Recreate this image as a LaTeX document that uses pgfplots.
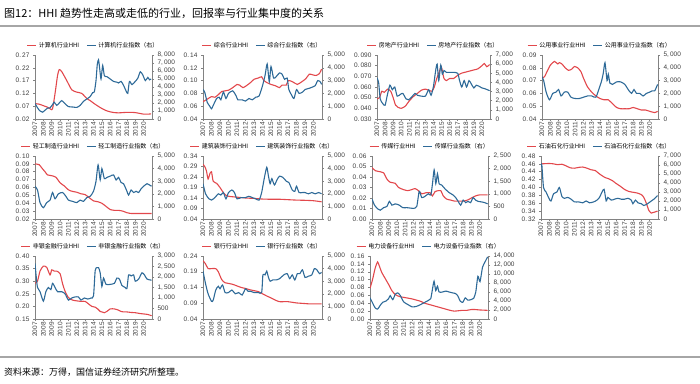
\documentclass[border=0pt]{standalone}
\usepackage{fontspec}
\setmainfont{Liberation Sans}
\newfontfamily\cjk{Noto Sans CJK SC}
\usepackage{pgfplots}
\pgfplotsset{compat=1.18}
\definecolor{hhired}{RGB}{226,72,76}
\definecolor{idxblue}{RGB}{46,106,152}
\definecolor{axgray}{RGB}{130,130,130}
\definecolor{txtgray}{RGB}{60,60,60}
\pgfplotsset{
  common/.style={
    scale only axis, anchor=south west,
    xmin=2007, xmax=2021,
    scaled ticks=false,
    tick label style={font=\fontsize{6.5}{7}\selectfont, text=txtgray},
    axis line style={axgray, line width=0.6pt},
    tick style={axgray, line width=0.5pt},
    major tick length=2pt,
    tick align=outside,
    /pgf/number format/assume math mode=true,
    every axis plot/.append style={line width=1.1pt, smooth, tension=0.4},
  },
  lefta/.style={common, axis x line*=bottom, axis y line*=left,
    xtick={2007,2008,2009,2010,2011,2012,2013,2014,2015,2016,2017,2018,2019,2020},
    xticklabels={2007,2008,2009,2010,2011,2012,2013,2014,2015,2016,2017,2018,2019,2020},
    x tick label style={rotate=90, anchor=east, inner sep=1pt},
    yticklabel style={/pgf/number format/fixed, /pgf/number format/fixed zerofill, /pgf/number format/precision=2, /pgf/number format/dec sep={.\,}},
  },
  righta/.style={common, axis x line=none, axis y line*=right, xtick=\empty, ymin=0,
    yticklabel style={/pgf/number format/fixed, /pgf/number format/precision=0, /pgf/number format/1000 sep={,\,}},
    legend style={at={(0.5,1)}, anchor=south, yshift=4pt, draw=none, fill=none,
      font=\cjk\fontsize{6}{7}\selectfont, inner sep=0pt, legend columns=2,
      /tikz/every even column/.append style={column sep=5pt}},
    legend cell align=left,
    legend image code/.code={\draw[##1, line width=1.1pt] (0pt,0pt) -- (9pt,0pt);},
  },
}
\begin{document}
\begin{tikzpicture}
\path[use as bounding box] (0pt,0pt) rectangle (700pt,383pt);
\node[anchor=west, inner sep=0pt] at (4pt,370pt) {\cjk\fontsize{11}{13}\selectfont 图12：HHI 趋势性走高或走低的行业，回报率与行业集中度的关系};
\draw[color=gray!70, line width=1.2pt] (0pt,357pt) -- (700pt,357pt);
\draw[color=gray!70, line width=1.2pt] (0pt,26pt) -- (700pt,26pt);
\node[anchor=west, inner sep=0pt] at (4pt,11pt) {\cjk\fontsize{9}{11}\selectfont 资料来源：万得，国信证券经济研究所整理。};

% ---------- Panel 1 计算机
\begin{axis}[lefta, at={(35pt,264pt)}, width=117pt, height=64pt, ymin=0.02, ymax=0.27, ytick={0.02,0.07,0.12,0.17,0.22,0.27}]
\addplot[hhired] coordinates {(2007.0,0.080)(2007.5,0.078)(2008.0,0.072)(2008.5,0.066)(2008.9,0.058)(2009.1,0.060)(2009.4,0.120)(2009.7,0.190)(2009.9,0.213)(2010.2,0.205)(2010.8,0.170)(2011.4,0.134)(2012.0,0.125)(2012.6,0.120)(2013.2,0.100)(2013.6,0.092)(2014.0,0.082)(2014.5,0.071)(2015.0,0.061)(2015.5,0.053)(2016.0,0.048)(2016.5,0.045)(2017.0,0.044)(2017.5,0.045)(2018.0,0.046)(2018.5,0.046)(2019.0,0.045)(2019.5,0.042)(2020.0,0.039)(2020.5,0.039)(2020.9,0.040)};
\end{axis}
\begin{axis}[righta, at={(35pt,264pt)}, width=117pt, height=64pt, ymax=8000, ytick={0,1000,...,8000}]
\addlegendimage{hhired}\addlegendentry{计算机行业HHI}
\addplot[idxblue] coordinates {(2007.0,1950)(2007.3,1400)(2007.6,1000)(2007.9,850)(2008.2,1100)(2008.5,1350)(2008.8,1400)(2009.1,1800)(2009.3,2100)(2009.6,1700)(2009.9,2000)(2010.2,2300)(2010.6,1900)(2011.0,1550)(2011.5,1500)(2012.0,1450)(2012.4,1700)(2012.8,2200)(2013.2,2500)(2013.6,2800)(2013.9,3300)(2014.1,3400)(2014.3,4800)(2014.45,6800)(2014.6,7400)(2014.75,6200)(2014.9,5000)(2015.1,6700)(2015.3,5400)(2015.6,5300)(2016.0,5000)(2016.4,4700)(2016.8,4600)(2017.0,4500)(2017.3,4700)(2017.6,4200)(2017.9,3500)(2018.1,3200)(2018.3,4700)(2018.6,4300)(2019.0,4700)(2019.3,5100)(2019.6,5900)(2019.9,5500)(2020.2,4800)(2020.5,5200)(2020.7,4900)(2020.9,5000)};
\addlegendentry{计算机行业指数（右）}
\end{axis}

% ---------- Panel 2 综合
\begin{axis}[lefta, at={(203pt,264pt)}, width=119pt, height=64pt, ymin=0.04, ymax=0.14, ytick={0.04,0.06,0.08,0.10,0.12,0.14}]
\addplot[hhired] coordinates {(2007.0,0.067)(2007.5,0.071)(2008.0,0.075)(2008.4,0.074)(2008.8,0.078)(2009.2,0.083)(2009.6,0.084)(2010.0,0.085)(2010.5,0.089)(2011.0,0.094)(2011.3,0.093)(2011.7,0.089)(2012.1,0.092)(2012.6,0.097)(2013.0,0.102)(2013.5,0.104)(2013.9,0.106)(2014.1,0.101)(2014.5,0.097)(2015.0,0.094)(2015.5,0.092)(2016.0,0.089)(2016.3,0.093)(2016.8,0.093)(2017.0,0.100)(2017.4,0.099)(2017.8,0.096)(2018.1,0.094)(2018.6,0.098)(2019.1,0.103)(2019.5,0.110)(2019.9,0.109)(2020.3,0.108)(2020.7,0.111)(2020.95,0.118)};
\end{axis}
\begin{axis}[righta, at={(203pt,264pt)}, width=119pt, height=64pt, ymax=5000, ytick={0,1000,...,5000}]
\addlegendimage{hhired}\addlegendentry{综合行业HHI}
\addplot[idxblue] coordinates {(2007.0,2300)(2007.2,2100)(2007.5,1300)(2007.8,1000)(2008.0,800)(2008.3,1200)(2008.6,1600)(2008.9,1700)(2009.1,1500)(2009.4,2100)(2009.7,1600)(2010.0,2000)(2010.5,2200)(2010.9,1800)(2011.1,1500)(2011.6,1500)(2012.0,1400)(2012.4,1600)(2012.8,1500)(2013.2,1700)(2013.6,1800)(2014.0,2600)(2014.3,3400)(2014.55,4300)(2014.8,2900)(2015.0,4100)(2015.3,3200)(2015.6,3300)(2016.0,3600)(2016.3,3500)(2016.6,3100)(2016.9,3200)(2017.1,2300)(2017.4,1900)(2017.7,1600)(2018.0,2300)(2018.3,2000)(2018.7,2100)(2019.0,2300)(2019.5,2400)(2019.9,2500)(2020.2,2600)(2020.5,3000)(2020.8,2900)(2020.95,2700)};
\addlegendentry{综合行业指数（右）}
\end{axis}

% ---------- Panel 3 房地产
\begin{axis}[lefta, at={(377pt,264pt)}, width=113pt, height=64pt, ymin=0.03, ymax=0.09, ytick={0.03,0.04,0.05,0.06,0.07,0.08,0.09}, yticklabel style={/pgf/number format/precision=3}]
\addplot[hhired] coordinates {(2007.0,0.049)(2007.3,0.050)(2007.6,0.056)(2007.9,0.055)(2008.3,0.058)(2008.7,0.056)(2009.0,0.050)(2009.3,0.043)(2009.6,0.041)(2010.0,0.040)(2010.5,0.042)(2011.0,0.047)(2011.5,0.051)(2012.0,0.054)(2012.5,0.057)(2013.0,0.058)(2013.4,0.057)(2013.8,0.056)(2014.1,0.060)(2014.4,0.068)(2014.7,0.074)(2014.95,0.079)(2015.1,0.075)(2015.3,0.068)(2015.6,0.066)(2016.0,0.068)(2016.5,0.068)(2017.0,0.071)(2017.5,0.073)(2018.0,0.074)(2018.5,0.075)(2019.0,0.076)(2019.5,0.077)(2020.0,0.080)(2020.3,0.082)(2020.6,0.079)(2020.95,0.081)};
\end{axis}
\begin{axis}[righta, at={(377pt,264pt)}, width=113pt, height=64pt, ymax=7000, ytick={0,1000,...,7000}]
\addlegendimage{hhired}\addlegendentry{房地产行业HHI}
\addplot[idxblue] coordinates {(2007.0,4500)(2007.2,4000)(2007.4,2200)(2007.7,1700)(2008.0,1500)(2008.3,2700)(2008.6,3700)(2008.9,3200)(2009.2,3500)(2009.5,2500)(2009.9,2700)(2010.2,2800)(2010.6,2200)(2010.9,2100)(2011.3,2400)(2011.7,2800)(2012.0,2600)(2012.5,2500)(2013.0,2500)(2013.4,3200)(2013.7,2600)(2014.0,3600)(2014.25,5200)(2014.45,6000)(2014.65,4200)(2014.9,5900)(2015.1,4900)(2015.3,5300)(2015.6,5100)(2016.0,5100)(2016.5,5100)(2017.0,5000)(2017.2,4300)(2017.5,3500)(2017.8,4200)(2018.1,3500)(2018.4,4200)(2018.7,3800)(2019.0,3400)(2019.3,3700)(2019.6,3600)(2020.0,3400)(2020.4,3300)(2020.95,3100)};
\addlegendentry{房地产行业指数（右）}
\end{axis}

% ---------- Panel 4 公用事业
\begin{axis}[lefta, at={(542pt,264pt)}, width=116pt, height=64pt, ymin=0.04, ymax=0.09, ytick={0.04,0.05,0.06,0.07,0.08,0.09}]
\addplot[hhired] coordinates {(2007.0,0.072)(2007.3,0.073)(2007.6,0.077)(2008.0,0.082)(2008.5,0.085)(2008.9,0.083)(2009.1,0.084)(2009.4,0.083)(2009.8,0.080)(2010.2,0.078)(2010.6,0.079)(2010.9,0.081)(2011.3,0.080)(2011.7,0.077)(2012.0,0.072)(2012.5,0.065)(2013.0,0.061)(2013.5,0.058)(2014.0,0.056)(2014.5,0.055)(2015.0,0.055)(2015.5,0.052)(2016.0,0.049)(2016.5,0.048)(2017.0,0.048)(2017.5,0.048)(2018.0,0.049)(2018.5,0.048)(2019.0,0.047)(2019.5,0.047)(2020.0,0.046)(2020.6,0.045)(2020.95,0.046)};
\end{axis}
\begin{axis}[righta, at={(542pt,264pt)}, width=116pt, height=64pt, ymax=5000, ytick={0,1000,...,5000}]
\addlegendimage{hhired}\addlegendentry{公用事业行业HHI}
\addplot[idxblue] coordinates {(2007.0,3300)(2007.2,3000)(2007.5,2100)(2007.9,1500)(2008.3,2000)(2008.7,2100)(2009.0,2300)(2009.3,1800)(2009.7,2100)(2010.1,2100)(2010.5,1700)(2011.0,1600)(2011.5,1600)(2012.0,1700)(2012.5,1800)(2013.0,1800)(2013.5,1700)(2013.9,2400)(2014.2,3000)(2014.4,3600)(2014.6,4400)(2014.85,3000)(2015.0,3500)(2015.2,2800)(2015.5,2700)(2016.0,2900)(2016.5,2900)(2017.0,2700)(2017.4,2300)(2017.8,2000)(2018.1,2300)(2018.4,2000)(2018.8,2000)(2019.2,1800)(2019.6,2000)(2020.0,2100)(2020.3,2200)(2020.6,2200)(2020.95,2700)};
\addlegendentry{公用事业行业指数（右）}
\end{axis}

% ---------- Panel 5 轻工制造
\begin{axis}[lefta, at={(35pt,164pt)}, width=117pt, height=63pt, ymin=0.02, ymax=0.10, ytick={0.02,0.03,0.04,0.05,0.06,0.07,0.08,0.09,0.10}]
\addplot[hhired] coordinates {(2007.0,0.090)(2007.5,0.089)(2007.8,0.085)(2008.2,0.080)(2008.5,0.076)(2009.0,0.075)(2009.5,0.073)(2010.0,0.066)(2010.5,0.062)(2011.0,0.057)(2011.5,0.055)(2012.0,0.054)(2012.5,0.052)(2013.0,0.051)(2013.5,0.047)(2014.0,0.043)(2014.5,0.042)(2015.0,0.040)(2015.5,0.036)(2016.0,0.032)(2016.5,0.031)(2017.0,0.031)(2017.5,0.030)(2018.0,0.028)(2018.5,0.027)(2019.0,0.027)(2019.5,0.027)(2020.0,0.027)(2020.95,0.027)};
\end{axis}
\begin{axis}[righta, at={(35pt,164pt)}, width=117pt, height=63pt, ymax=5000, ytick={0,1000,...,5000}]
\addlegendimage{hhired}\addlegendentry{轻工制造行业HHI}
\addplot[idxblue] coordinates {(2007.0,2600)(2007.3,2300)(2007.6,1300)(2008.0,900)(2008.4,1300)(2008.8,1500)(2009.1,2100)(2009.4,1600)(2009.8,2000)(2010.3,2100)(2010.7,1800)(2011.0,1500)(2011.5,1400)(2012.0,1300)(2012.4,1500)(2012.8,1400)(2013.2,1700)(2013.6,1800)(2014.0,2200)(2014.3,3000)(2014.55,4300)(2014.8,3100)(2015.0,4000)(2015.3,3200)(2015.6,3300)(2016.0,3400)(2016.4,3500)(2016.7,3100)(2017.0,3300)(2017.3,2900)(2017.6,2800)(2018.0,2200)(2018.2,1900)(2018.5,2300)(2018.8,2100)(2019.1,2200)(2019.4,2100)(2019.7,2400)(2020.0,2600)(2020.4,2800)(2020.7,2700)(2020.95,2600)};
\addlegendentry{轻工制造行业指数（右）}
\end{axis}

% ---------- Panel 6 建筑装饰
\begin{axis}[lefta, at={(203pt,164pt)}, width=119pt, height=63pt, ymin=0.04, ymax=0.34, ytick={0.04,0.09,0.14,0.19,0.24,0.29,0.34}]
\addplot[hhired] coordinates {(2007.0,0.300)(2007.2,0.290)(2007.4,0.270)(2007.6,0.230)(2007.8,0.255)(2008.0,0.265)(2008.2,0.220)(2008.6,0.210)(2009.0,0.190)(2009.4,0.165)(2009.8,0.150)(2010.2,0.147)(2011.0,0.144)(2012.0,0.140)(2013.0,0.138)(2014.0,0.135)(2015.0,0.134)(2016.0,0.134)(2017.0,0.132)(2018.0,0.130)(2019.0,0.129)(2020.0,0.127)(2020.95,0.122)};
\end{axis}
\begin{axis}[righta, at={(203pt,164pt)}, width=119pt, height=63pt, ymax=5000, ytick={0,1000,...,5000}]
\addlegendimage{hhired}\addlegendentry{建筑装饰行业HHI}
\addplot[idxblue] coordinates {(2007.0,2800)(2007.3,2000)(2007.7,1600)(2008.0,1500)(2008.4,1700)(2008.8,2000)(2009.1,1900)(2009.4,2100)(2009.7,1600)(2010.0,2100)(2010.4,2300)(2010.7,2100)(2011.0,1600)(2011.5,1700)(2012.0,1700)(2012.4,1800)(2012.8,1700)(2013.2,1600)(2013.6,1500)(2013.9,2100)(2014.2,3200)(2014.5,4100)(2014.7,3400)(2014.9,2800)(2015.1,3200)(2015.4,2700)(2015.7,3100)(2016.0,3400)(2016.4,3300)(2016.8,3000)(2017.1,2900)(2017.5,2300)(2017.8,2200)(2018.0,2600)(2018.3,2100)(2018.7,2100)(2019.0,2100)(2019.4,2000)(2019.8,2100)(2020.2,2000)(2020.6,2100)(2020.95,2000)};
\addlegendentry{建筑装饰行业指数（右）}
\end{axis}

% ---------- Panel 7 传媒
\begin{axis}[lefta, at={(372pt,164pt)}, width=116pt, height=63pt, ymin=0, ymax=0.06, ytick={0,0.01,0.02,0.03,0.04,0.05,0.06}]
\addplot[hhired] coordinates {(2007.0,0.049)(2007.4,0.046)(2008.0,0.045)(2008.4,0.044)(2008.8,0.038)(2009.2,0.035)(2009.8,0.034)(2010.2,0.030)(2010.8,0.028)(2011.3,0.027)(2011.8,0.028)(2012.2,0.029)(2012.6,0.027)(2013.0,0.024)(2013.5,0.025)(2014.0,0.025)(2014.3,0.022)(2014.6,0.026)(2015.0,0.027)(2015.3,0.027)(2015.6,0.022)(2016.0,0.019)(2016.5,0.018)(2017.0,0.017)(2017.5,0.017)(2018.0,0.017)(2018.5,0.018)(2019.0,0.020)(2019.5,0.022)(2020.0,0.023)(2020.95,0.023)};
\end{axis}
\begin{axis}[righta, at={(372pt,164pt)}, width=116pt, height=63pt, ymax=2500, ytick={0,500,...,2500}]
\addlegendimage{hhired}\addlegendentry{传媒行业HHI}
\addplot[idxblue] coordinates {(2007.0,800)(2007.3,550)(2007.7,400)(2008.0,350)(2008.4,450)(2008.8,500)(2009.1,700)(2009.4,550)(2009.8,600)(2010.3,550)(2010.7,450)(2011.2,450)(2011.7,430)(2012.0,420)(2012.4,500)(2012.7,1100)(2013.0,850)(2013.4,900)(2013.8,1000)(2014.1,950)(2014.3,1400)(2014.5,1950)(2014.7,1400)(2014.9,1800)(2015.1,1400)(2015.4,1350)(2015.8,1200)(2016.3,1050)(2016.8,950)(2017.1,850)(2017.4,700)(2017.7,550)(2018.0,750)(2018.3,650)(2018.6,700)(2018.9,650)(2019.2,850)(2019.5,750)(2019.8,700)(2020.2,680)(2020.6,650)(2020.95,600)};
\addlegendentry{传媒行业指数（右）}
\end{axis}

% ---------- Panel 8 石油石化
\begin{axis}[lefta, at={(541pt,164pt)}, width=117pt, height=63pt, ymin=0.32, ymax=0.48, ytick={0.32,0.34,0.36,0.38,0.40,0.42,0.44,0.46,0.48}]
\addplot[hhired] coordinates {(2007.0,0.460)(2008.0,0.461)(2008.5,0.460)(2009.0,0.458)(2009.5,0.459)(2010.0,0.455)(2010.5,0.450)(2011.0,0.449)(2011.5,0.451)(2012.0,0.452)(2012.5,0.449)(2013.0,0.445)(2013.5,0.443)(2013.9,0.436)(2014.3,0.430)(2014.7,0.425)(2015.0,0.423)(2015.5,0.418)(2016.0,0.410)(2016.5,0.403)(2017.0,0.395)(2017.5,0.390)(2018.0,0.388)(2018.5,0.386)(2019.0,0.382)(2019.3,0.375)(2019.6,0.360)(2019.9,0.342)(2020.2,0.335)(2020.5,0.337)(2020.95,0.340)};
\end{axis}
\begin{axis}[righta, at={(541pt,164pt)}, width=117pt, height=63pt, ymax=7000, ytick={0,1000,...,7000}]
\addlegendimage{hhired}\addlegendentry{石油石化行业HHI}
\addplot[idxblue] coordinates {(2007.0,5800)(2007.1,6000)(2007.3,3500)(2007.6,3000)(2008.0,2200)(2008.2,2000)(2008.5,2800)(2008.9,3000)(2009.2,3500)(2009.5,2500)(2009.8,2300)(2010.2,2400)(2010.6,2200)(2011.0,1900)(2011.5,1900)(2012.0,1800)(2012.4,2000)(2012.8,1800)(2013.3,1900)(2013.7,2100)(2014.0,2400)(2014.3,3000)(2014.55,3300)(2014.8,2000)(2015.0,2400)(2015.4,2100)(2015.8,2200)(2016.2,2300)(2016.6,2200)(2017.0,2200)(2017.4,2300)(2017.8,2100)(2018.0,1700)(2018.3,2100)(2018.6,1800)(2019.0,1700)(2019.3,1500)(2019.6,1600)(2019.9,1800)(2020.2,2000)(2020.5,2200)(2020.95,2600)};
\addlegendentry{石油石化行业指数（右）}
\end{axis}

% ---------- Panel 9 非银金融
\begin{axis}[lefta, at={(35pt,64pt)}, width=117pt, height=63pt, ymin=0.15, ymax=0.40, ytick={0.15,0.20,0.25,0.30,0.35,0.40}]
\addplot[hhired] coordinates {(2007.0,0.292)(2007.3,0.300)(2007.6,0.340)(2008.0,0.360)(2008.4,0.355)(2008.8,0.325)(2009.0,0.345)(2009.3,0.340)(2009.6,0.340)(2010.0,0.330)(2010.3,0.290)(2010.6,0.260)(2011.0,0.235)(2011.5,0.225)(2012.0,0.222)(2012.5,0.220)(2013.0,0.220)(2013.4,0.210)(2013.8,0.200)(2014.2,0.197)(2014.5,0.190)(2014.8,0.180)(2015.0,0.178)(2015.3,0.175)(2015.6,0.180)(2016.0,0.190)(2016.5,0.190)(2017.0,0.185)(2017.3,0.180)(2017.6,0.178)(2018.0,0.178)(2018.5,0.176)(2019.0,0.175)(2019.5,0.172)(2020.0,0.170)(2020.5,0.168)(2020.95,0.163)};
\end{axis}
\begin{axis}[righta, at={(35pt,64pt)}, width=117pt, height=63pt, ymax=3000, ytick={0,500,...,3000}]
\addlegendimage{hhired}\addlegendentry{非银金融行业HHI}
\addplot[idxblue] coordinates {(2007.0,2650)(2007.15,2000)(2007.3,1500)(2007.6,1300)(2008.0,850)(2008.3,1300)(2008.6,1500)(2008.9,1400)(2009.1,1700)(2009.4,1500)(2009.7,1300)(2010.2,1300)(2010.6,1200)(2011.0,900)(2011.4,1000)(2011.8,1050)(2012.2,1050)(2012.5,900)(2012.9,1000)(2013.3,950)(2013.7,1000)(2014.0,1100)(2014.2,2300)(2014.4,2450)(2014.6,2450)(2014.8,2200)(2015.0,1550)(2015.2,1950)(2015.5,1650)(2016.0,1650)(2016.5,1700)(2016.8,1950)(2017.1,1900)(2017.4,1600)(2017.8,1500)(2018.0,1450)(2018.2,2100)(2018.5,2050)(2018.8,2100)(2019.0,1800)(2019.4,1900)(2019.8,2200)(2020.1,2100)(2020.4,1900)(2020.95,1850)};
\addlegendentry{非银金融行业指数（右）}
\end{axis}

% ---------- Panel 10 银行
\begin{axis}[lefta, at={(203pt,64pt)}, width=119pt, height=63pt, ymin=0.04, ymax=0.24, ytick={0.04,0.09,0.14,0.19,0.24}]
\addplot[hhired] coordinates {(2007.0,0.225)(2007.3,0.215)(2007.6,0.200)(2008.0,0.200)(2008.5,0.200)(2008.8,0.190)(2009.2,0.165)(2009.6,0.155)(2010.0,0.153)(2010.5,0.150)(2011.0,0.145)(2011.5,0.140)(2012.0,0.137)(2012.5,0.133)(2013.0,0.130)(2013.5,0.127)(2014.0,0.120)(2014.5,0.113)(2015.0,0.107)(2015.5,0.100)(2016.0,0.095)(2016.5,0.095)(2017.0,0.095)(2017.5,0.093)(2018.0,0.091)(2018.5,0.090)(2019.0,0.089)(2019.5,0.088)(2020.0,0.088)(2020.95,0.088)};
\end{axis}
\begin{axis}[righta, at={(203pt,64pt)}, width=119pt, height=63pt, ymax=5000, ytick={0,1000,...,5000}]
\addlegendimage{hhired}\addlegendentry{银行行业HHI}
\addplot[idxblue] coordinates {(2007.0,3800)(2007.3,2800)(2007.6,2000)(2008.0,1400)(2008.2,1500)(2008.5,2300)(2008.8,2600)(2009.0,2400)(2009.3,2700)(2009.6,2100)(2010.0,2100)(2010.4,2300)(2010.8,2000)(2011.2,2100)(2011.6,1900)(2012.0,2400)(2012.3,2200)(2012.6,2200)(2013.0,2100)(2013.5,2100)(2013.9,2100)(2014.05,3500)(2014.3,3500)(2014.5,3800)(2014.7,3300)(2014.9,3000)(2015.2,3100)(2015.6,3100)(2016.0,3200)(2016.5,3500)(2016.9,3600)(2017.2,3200)(2017.5,3500)(2017.8,3100)(2018.1,3600)(2018.4,3600)(2018.7,3900)(2019.0,3300)(2019.4,3400)(2019.8,3500)(2020.1,4000)(2020.4,3900)(2020.7,3600)(2020.95,3700)};
\addlegendentry{银行行业指数（右）}
\end{axis}

% ---------- Panel 11 电力设备
\begin{axis}[lefta, at={(370pt,64pt)}, width=118pt, height=63pt, ymin=0, ymax=0.16, ytick={0,0.02,0.04,0.06,0.08,0.10,0.12,0.14,0.16}]
\addplot[hhired] coordinates {(2007.0,0.078)(2007.3,0.100)(2007.6,0.128)(2007.9,0.145)(2008.1,0.135)(2008.4,0.118)(2008.8,0.103)(2009.2,0.088)(2009.6,0.072)(2010.0,0.062)(2010.5,0.057)(2011.0,0.055)(2011.5,0.053)(2012.0,0.051)(2012.5,0.048)(2013.0,0.045)(2013.5,0.040)(2014.0,0.037)(2014.5,0.034)(2015.0,0.031)(2015.5,0.028)(2016.0,0.025)(2016.5,0.022)(2017.0,0.020)(2017.5,0.021)(2018.0,0.022)(2018.5,0.022)(2019.0,0.024)(2019.5,0.024)(2020.0,0.023)(2020.95,0.022)};
\end{axis}
\begin{axis}[righta, at={(370pt,64pt)}, width=118pt, height=63pt, ymax=14000, ytick={0,2000,...,14000}]
\addlegendimage{hhired}\addlegendentry{电力设备行业HHI}
\addplot[idxblue] coordinates {(2007.0,4700)(2007.3,3600)(2007.6,2500)(2007.9,2200)(2008.2,3000)(2008.5,3700)(2008.9,4000)(2009.2,4500)(2009.4,5200)(2009.7,4300)(2010.0,5500)(2010.3,5800)(2010.6,5200)(2011.0,3800)(2011.5,3200)(2012.0,2700)(2012.5,2800)(2013.0,3200)(2013.5,3700)(2013.9,4100)(2014.2,4500)(2014.4,6500)(2014.6,8400)(2014.8,6300)(2015.0,7300)(2015.2,6000)(2015.6,6000)(2016.0,6200)(2016.4,6000)(2016.8,5800)(2017.1,5700)(2017.4,5200)(2017.7,4000)(2018.0,3700)(2018.3,4700)(2018.6,4200)(2019.0,4300)(2019.3,4600)(2019.55,6000)(2019.8,9500)(2020.05,8300)(2020.35,11500)(2020.65,12700)(2020.95,13800)};
\addlegendentry{电力设备行业指数（右）}
\end{axis}
\end{tikzpicture}
\end{document}
